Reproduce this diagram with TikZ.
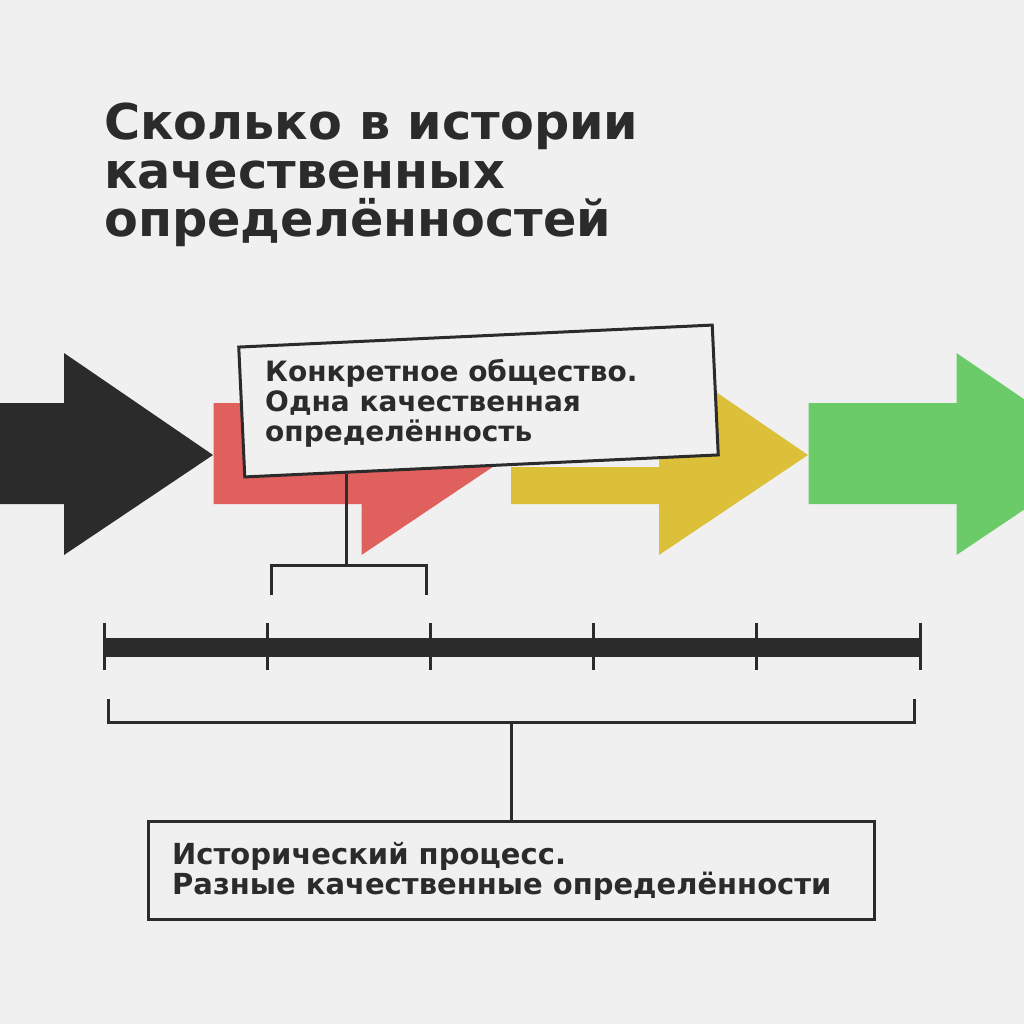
\documentclass[tikz,border=0pt]{standalone}
\usepackage{fontspec}
\setmainfont{DejaVu Sans}
\usetikzlibrary{calc}
\definecolor{paper}{HTML}{F0F0F0}
\definecolor{ink}{HTML}{2B2B2B}
\definecolor{arrowblack}{HTML}{2B2B2B}
\definecolor{arrowred}{HTML}{E0605E}
\definecolor{arrowyellow}{HTML}{DCC03A}
\definecolor{arrowgreen}{HTML}{6BCB69}
\tikzset{
  labelbox/.style={draw=ink, line width=3pt, fill=paper, inner sep=0pt},
  labeltext/.style={text=ink, align=left, inner sep=0pt, font=\bfseries\fontsize{28}{30}\selectfont},
  bracket/.style={draw=ink, line width=3pt},
}
\begin{document}
\begin{tikzpicture}[x=1pt,y=-1pt]
    \useasboundingbox[fill=paper] (0,0) rectangle (1024,1024);
    \clip (0,0) rectangle (1024,1024);
    % title
    \node[anchor=north west, text=ink, align=left, inner sep=0pt,
          font=\bfseries\fontsize{49.3}{48.5}\selectfont] (title) at (104,103)
          {Сколько в истории\\качественных\\определённостей};
    % arrows
    \foreach \x/\c/\t in {-84/arrowblack/403, 213.5/arrowred/403, 511/arrowyellow/467, 808.5/arrowgreen/403}
        \fill[\c] (\x,\t) -- (\x+148,\t) -- (\x+148,353) -- (\x+297,455) -- (\x+148,555)
                  -- (\x+148,504) -- (\x,504) -- cycle;
    % one society
    \node[labelbox, rotate=2.66, minimum width=474pt, minimum height=130pt] (socbox) at (478.5,401) {};
    \node[labeltext, anchor=north west] (soctext) at (265,359)
        {Конкретное общество.\\Одна качественная\\определённость};
    \coordinate (socstem) at ($(socbox.south west)!0.217!(socbox.south east)$);
    \coordinate (b1l) at (271,595);
    \coordinate (b1r) at (426,595);
    \coordinate (b1m) at (348.5,565);
    \draw[bracket] (b1l) |- (b1r |- b1m) -- (b1r);
    \draw[bracket] (socstem) -- (socstem |- b1m);
    % time line
    \coordinate (t0) at (104,647);
    \coordinate (t5) at (920,647);
    \draw[ink, line width=19pt] (t0) -- (t5);
    \foreach \i in {0,...,5}
        \draw[ink, line width=3pt] ($(t0)!\i/5!(t5)+(0,-24)$) -- ($(t0)!\i/5!(t5)+(0,23)$);
    % historical process
    \coordinate (b2l) at (108,699);
    \coordinate (b2r) at (914,699);
    \coordinate (b2m) at (511,722);
    \draw[bracket] (b2l) |- (b2r |- b2m) -- (b2r);
    \node[labelbox, minimum width=726pt, minimum height=98pt] (histbox) at (511,870) {};
    \node[labeltext, anchor=north west, font=\bfseries\fontsize{29}{30}\selectfont] (histtext) at (172,842)
        {Исторический процесс.\\Разные качественные определённости};
    \draw[bracket] (b2m) -- (histbox.north);
\end{tikzpicture}
\end{document}
